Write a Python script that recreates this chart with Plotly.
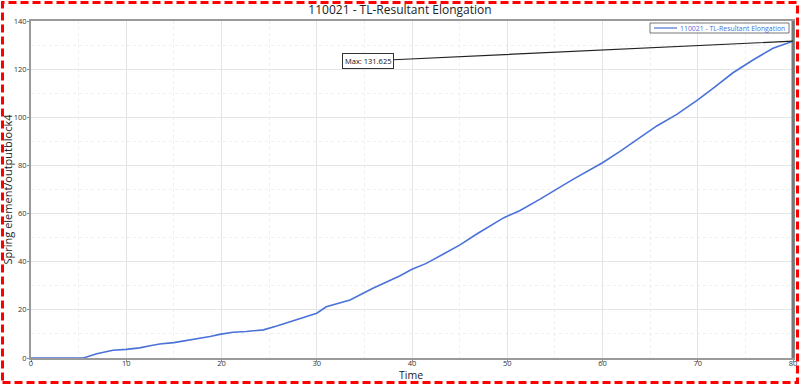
import plotly.graph_objects as go

time = [0, 5.5, 6.9, 8.6, 10, 11.4, 12.5, 13.5, 15, 16.3, 17.4, 18.8, 19.8, 21.2, 22.6,
        24.4, 25.8, 27.2, 28.2, 30, 31, 33.5, 35.9, 38.7, 40, 41.5, 43.3, 45, 46.8, 48.2,
        49.6, 51.3, 53.4, 56.9, 60, 61.8, 63.9, 65.7, 67.8, 70, 71.6, 73.7, 75.8, 77.9, 80]
elongation = [0, 0, 1.8, 3.2, 3.6, 4.2, 5.1, 5.8, 6.4, 7.2, 7.8, 8.9, 9.8, 10.7, 11.0,
              11.7, 13.3, 15.1, 16.5, 18.6, 21.3, 24.1, 29, 34.1, 36.9, 39.3, 43.2, 46.9, 51.5, 54.8,
              58.2, 61.2, 65.9, 74.2, 81.1, 85.7, 91.3, 96.4, 101.2, 107.2, 112, 118.5, 123.8, 128.7, 131.625]
series_name = "110021 - TL-Resultant Elongation"
max_time = 80
max_value = 131.625
x_ticks = [0, 10, 20, 30, 40, 50, 60, 70, 80]
y_ticks = [0, 20, 40, 60, 80, 100, 120, 140]

FONT = "Open Sans"
LINE_COLOR = "#4b72d8"

fig = go.Figure()
fig.add_trace(go.Scatter(x=time, y=elongation, mode="lines", name=series_name,
                         line=dict(color=LINE_COLOR, width=1.6), showlegend=False))

fig.add_annotation(x=max_time, y=max_value, ax=35.4, ay=123.4, axref="x", ayref="y",
                   text=f"Max: {max_value}", showarrow=True, arrowhead=0, arrowwidth=1.2,
                   arrowcolor="#222", bordercolor="#333", borderwidth=1, borderpad=2,
                   bgcolor="white", font=dict(family=FONT, size=7.5, color="#111"))

L, R, T, B = 31, 7, 21, 27
W, H = 800, 385
pw, ph = W - L - R, H - T - B
def px2x(px):
    return (px - L) / pw
def py2y(py):
    return (H - B - py) / ph

# legend box (drawn compactly, like the reference)
fig.add_shape(type="rect", xref="paper", yref="paper",
              x0=px2x(650), x1=px2x(789), y0=py2y(33), y1=py2y(23),
              line=dict(color="#777", width=1), fillcolor="white", layer="above")
fig.add_shape(type="line", xref="paper", yref="paper",
              x0=px2x(654), x1=px2x(677), y0=py2y(28), y1=py2y(28),
              line=dict(color=LINE_COLOR, width=1.2), layer="above")
fig.add_annotation(xref="paper", yref="paper", x=px2x(679), y=py2y(28), xanchor="left",
                   yanchor="middle", text=series_name, showarrow=False, borderpad=0,
                   font=dict(family=FONT, size=6.9, color=LINE_COLOR))

# axis title "Time"
fig.add_annotation(xref="paper", yref="paper", x=px2x(411), y=py2y(375), xanchor="center",
                   yanchor="middle", text="Time", showarrow=False, borderpad=0,
                   font=dict(family=FONT, size=10.5, color="#222"))

# red dashed frame around the whole picture
fig.add_shape(type="rect", xref="paper", yref="paper",
              x0=px2x(2.5), x1=px2x(797.5), y0=py2y(382.5), y1=py2y(2.5),
              line=dict(color="#ff0000", width=3, dash="8px,4px"), layer="above")
# darker right frame edge
fig.add_shape(type="line", xref="paper", yref="paper", x0=1, x1=1, y0=0, y1=1,
              line=dict(color="#777", width=3), layer="above")

axis_common = dict(showline=True, mirror=True, linecolor="#9a9a9a", linewidth=2,
                   gridcolor="#e4e4e4", gridwidth=1, ticks="outside", ticklen=2,
                   tickcolor="#888", tickfont=dict(family=FONT, size=7.5, color="#333"),
                   zeroline=False)

fig.update_xaxes(range=[0, 80], tickvals=x_ticks, ticklabelstandoff=-5, **axis_common,
                 minor=dict(dtick=5, showgrid=True, gridcolor="#efefef", griddash="dot"))
fig.update_yaxes(range=[0, 140], tickvals=y_ticks, ticklabelstandoff=-1, **axis_common,
                 minor=dict(dtick=10, showgrid=True, gridcolor="#efefef", griddash="dot"),
                 title=dict(text="Spring element/outputblock4",
                            font=dict(family=FONT, size=11, color="#222"), standoff=0))

fig.update_layout(
    width=W, height=H,
    margin=dict(l=L, r=R, t=T, b=B, autoexpand=False),
    paper_bgcolor="white", plot_bgcolor="white",
    title=dict(text=series_name, x=0.5, xanchor="center", y=1 - 10 / H, yanchor="middle",
               font=dict(family=FONT, size=12, color="#222")),
    showlegend=False,
)

fig.write_html("out.html", config={"displayModeBar": False},
               post_script="document.body.style.margin='0';document.body.style.overflow='hidden';")
